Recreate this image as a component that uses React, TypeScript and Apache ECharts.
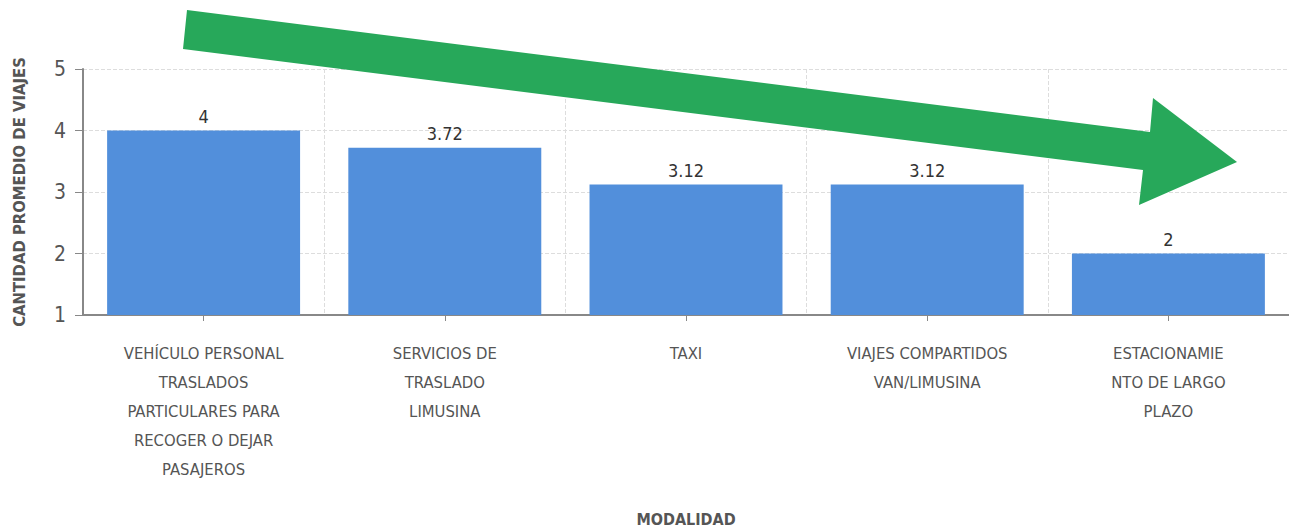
import React, { useEffect, useRef } from "react";
import * as echarts from "echarts";

const categories = [
  "VEHÍCULO PERSONAL\nTRASLADOS\nPARTICULARES PARA\nRECOGER O DEJAR\nPASAJEROS",
  "SERVICIOS DE\nTRASLADO\nLIMUSINA",
  "TAXI",
  "VIAJES COMPARTIDOS\nVAN/LIMUSINA",
  "ESTACIONAMIE\nNTO DE LARGO\nPLAZO",
];
const values = [4, 3.72, 3.12, 3.12, 2];
const yName = "CANTIDAD PROMEDIO DE VIAJES";
const xName = "MODALIDAD";

const FONT = "'DejaVu Sans Condensed', 'Liberation Sans Narrow', sans-serif";

export default function App() {
  const ref = useRef<HTMLDivElement>(null);
  useEffect(() => {
    if (!ref.current) return;
    const chart = echarts.init(ref.current, null, { renderer: "svg" });
    chart.setOption({
      animation: false,
      textStyle: { fontFamily: FONT },
      grid: { left: 83, right: 0, top: 69, bottom: 216, containLabel: false, outerBoundsMode: "none" },
      xAxis: {
        type: "category",
        data: categories,
        name: xName,
        nameLocation: "middle",
        nameGap: 196,
        nameTextStyle: { fontSize: 16, fontWeight: "bold", color: "#555", fontFamily: FONT },
        axisLine: { lineStyle: { color: "#888", width: 2 } },
        axisTick: { show: true, alignWithLabel: true, length: 6, lineStyle: { color: "#888" } },
        axisLabel: {
          color: "#555",
          fontSize: 16.5,
          lineHeight: 29,
          margin: 24,
          interval: 0,
          fontFamily: FONT,
        },
        splitLine: { show: true, lineStyle: { color: "#ddd", type: "dashed" } },
      },
      yAxis: {
        type: "value",
        min: 1,
        max: 5,
        interval: 1,
        name: yName,
        nameLocation: "middle",
        nameGap: 55,
        nameTextStyle: { fontSize: 16.5, fontWeight: "bold", color: "#555", fontFamily: FONT },
        axisLine: { show: true, lineStyle: { color: "#888", width: 2 } },
        axisTick: { show: true, length: 8, lineStyle: { color: "#888" } },
        axisLabel: { color: "#555", fontSize: 21, margin: 17, fontFamily: FONT },
        splitLine: { show: true, lineStyle: { color: "#ddd", type: "dashed" } },
      },
      series: [
        {
          type: "bar",
          data: values,
          barCategoryGap: "20%",
          itemStyle: { color: "#528fdb" },
          label: {
            show: true,
            position: "top",
            distance: 5,
            color: "#333",
            fontSize: 18,
            fontFamily: FONT,
          },
        },
      ],
      graphic: [
        {
          type: "polygon",
          shape: {
            points: [
              [187, 10],
              [1150, 132],
              [1153, 98],
              [1237, 162],
              [1139, 205],
              [1143, 170],
              [183, 49],
            ],
          },
          style: { fill: "#27a85a" },
          z: 100,
        },
      ],
    });
    return () => chart.dispose();
  }, []);
  return (
    <div
      ref={ref}
      style={{ position: "fixed", left: 0, top: 0, width: 1289, height: 531, background: "#fff" }}
    />
  );
}
